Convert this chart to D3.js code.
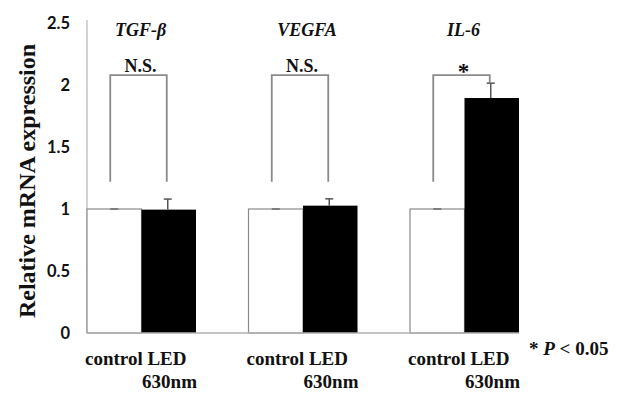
<!DOCTYPE html>
<html><head><meta charset="utf-8">
<script src="https://cdn.jsdelivr.net/npm/d3@7"></script>
<style>
html,body{margin:0;padding:0;background:#fff;}
svg{display:block;}
.serif{font-family:"Liberation Serif","Times New Roman",serif;font-weight:bold;}
</style></head>
<body>
<svg id="chart" width="626" height="406"></svg>
<script>
const genes = ["TGF-β", "VEGFA", "IL-6"];
const significance = ["N.S.", "N.S.", "*"];
const controlValues = [1.0, 1.0, 1.0];
const controlErrors = [0.0, 0.0, 0.0];
const ledValues = [0.995, 1.027, 1.895];
const ledErrors = [0.085, 0.055, 0.12];
const bracketTop = [2.08, 2.08, 2.08];
const bracketLeftBottom = [1.22, 1.22, 1.22];
const bracketRightBottom = [1.22, 1.22, 2.016];
const yTicks = [0, 0.5, 1, 1.5, 2, 2.5];
const xLabelTop = "control LED";
const xLabelBottom = "630nm";
const yTitle = "Relative mRNA expression";
const pNote = "P";

const svg = d3.select("#chart");
const x = d3.scaleBand().domain(genes).range([87, 519]).paddingInner(0.325).paddingOuter(0);
const sub = d3.scaleBand().domain(["control", "led"]).range([0, x.bandwidth()]);
const y = d3.scaleLinear().domain([0, 2.5]).range([333, 23]);

// y axis
const yAxis = d3.axisLeft(y).tickValues(yTicks).tickSize(0).tickPadding(17)
  .tickFormat(d => d3.format("")(d));
const gy = svg.append("g").attr("transform", "translate(87,0)").call(yAxis);
gy.select(".domain").remove();
gy.selectAll("text").attr("font-family", "Lato, 'Open Sans', sans-serif")
  .attr("font-weight", "bold").attr("font-size", "16.5px").attr("fill", "#111");
svg.append("line").attr("x1", 87).attr("x2", 87).attr("y1", y(0)).attr("y2", y(2.5) - 3)
  .attr("stroke", "#c4c4c4").attr("stroke-width", 1.5);

// y title
svg.append("text").attr("class", "serif")
  .attr("transform", `translate(35,${(y(0) + y(2.5)) / 2 + 3}) rotate(-90)`)
  .attr("text-anchor", "middle").attr("font-size", "24px").attr("fill", "#111").text(yTitle);

const data = genes.map((g, i) => ({g, i, c: controlValues[i], ce: controlErrors[i], l: ledValues[i], le: ledErrors[i]}));

// bars
const grp = svg.selectAll(".grp").data(data).join("g").attr("class", "grp")
  .attr("transform", d => `translate(${x(d.g)},0)`);
grp.append("rect").attr("x", sub("control")).attr("width", sub.bandwidth())
  .attr("y", d => y(d.c)).attr("height", d => y(0) - y(d.c))
  .attr("fill", "#fff").attr("stroke", "#8a8a8a").attr("stroke-width", 1.2);
grp.append("rect").attr("x", sub("led")).attr("width", sub.bandwidth())
  .attr("y", d => y(d.l)).attr("height", d => y(0) - y(d.l))
  .attr("fill", "#000");

// error bars
const cx = sub("control") + sub.bandwidth() / 2, lx = sub("led") + sub.bandwidth() / 2 - 1;
grp.append("line").attr("x1", cx - 4).attr("x2", cx + 4)
  .attr("y1", d => y(d.c + d.ce)).attr("y2", d => y(d.c + d.ce)).attr("stroke", "#555").attr("stroke-width", 1.2);
grp.append("line").attr("x1", lx).attr("x2", lx)
  .attr("y1", d => y(d.l)).attr("y2", d => y(d.l + d.le)).attr("stroke", "#555").attr("stroke-width", 1.5);
grp.append("line").attr("x1", lx - 4).attr("x2", lx + 4)
  .attr("y1", d => y(d.l + d.le)).attr("y2", d => y(d.l + d.le)).attr("stroke", "#555").attr("stroke-width", 1.5);

// baseline
svg.append("line").attr("x1", 87).attr("x2", 519).attr("y1", y(0)).attr("y2", y(0))
  .attr("stroke", "#b0b0b0").attr("stroke-width", 1.5);

// brackets
grp.append("path").attr("fill", "none").attr("stroke", "#8a8a8a").attr("stroke-width", 1.8)
  .attr("d", d => {
    const x0 = cx - 4, x1 = lx - 1;
    return `M${x0},${y(bracketLeftBottom[d.i])}V${y(bracketTop[d.i])}H${x1}V${y(bracketRightBottom[d.i])}`;
  });

// significance labels
grp.append("text").attr("class", "serif").attr("text-anchor", "middle")
  .attr("x", x.bandwidth() / 2 - 1)
  .attr("y", d => d.i === 2 ? 79 : 72)
  .attr("font-size", d => d.i === 2 ? "23px" : "18px").attr("fill", "#111")
  .text((d) => significance[d.i]);

// gene titles
grp.append("text").attr("class", "serif").attr("font-style", "italic").attr("text-anchor", "middle")
  .attr("x", (d) => x.bandwidth() / 2 + (d.i === 1 ? 5 : 0) - 1).attr("y", 36)
  .attr("font-size", "18px").attr("fill", "#111").text(d => d.g);

// x labels
grp.append("text").attr("class", "serif").attr("x", -2).attr("y", 365)
  .attr("font-size", "19px").attr("fill", "#111").text(xLabelTop);
grp.append("text").attr("class", "serif").attr("x", x.bandwidth() + 1).attr("y", 388)
  .attr("text-anchor", "end").attr("font-size", "19px").attr("fill", "#111").text(xLabelBottom);

// p note
const pt = svg.append("text").attr("class", "serif").attr("x", 529).attr("y", 355)
  .attr("font-size", "19px").attr("fill", "#111");
pt.append("tspan").text("* ");
pt.append("tspan").attr("font-style", "italic").text(pNote);
pt.append("tspan").text(" < 0.05");
</script>
</body></html>
